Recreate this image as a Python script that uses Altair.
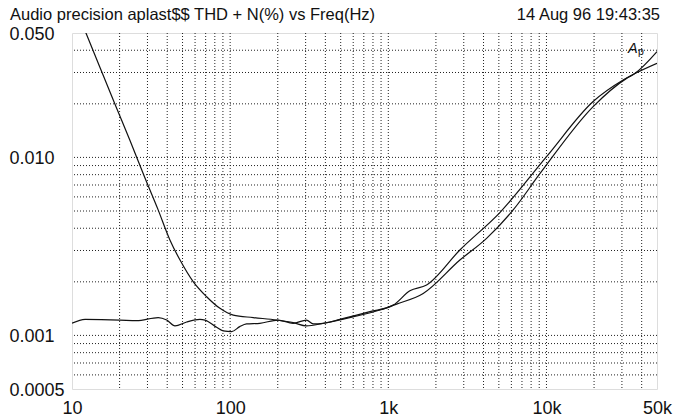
import altair as alt
import pandas as pd

# ---- data (frequency in Hz, THD+N in %) ----
a_freq = [11.57, 12.4, 15.03, 18.7, 23.3, 28.9, 35.0, 41.6, 48.2, 58.5, 71, 86.2, 104.6,
          140, 197, 250, 304, 388, 597, 885, 1128, 1662, 2835, 4182, 6160, 9086,
          19735, 32090, 36000, 50000]
a_thd = [0.0565, 0.0487, 0.032, 0.0199, 0.0124, 0.00768, 0.00509, 0.00344, 0.00265,
         0.0020, 0.00165, 0.00142, 0.0013, 0.00126, 0.00122, 0.00118, 0.00113, 0.00117,
         0.00127, 0.00139, 0.0015, 0.00172, 0.00265, 0.00351, 0.00507, 0.0081,
         0.0193, 0.0278, 0.0295, 0.0393]

b_freq = [10, 12.1, 20.1, 25.6, 35.1, 39.7, 44.8, 53.1, 64.4, 69.3, 82.1, 90.4, 102.2,
          115, 127, 154, 201, 250, 304, 335, 388, 494, 765, 1074, 1369, 1746, 2835,
          5075, 10014, 19735, 30530, 36000, 50000]
b_thd = [0.00117, 0.00123, 0.00122, 0.00121, 0.00126, 0.00122, 0.00113, 0.00119,
         0.00123, 0.00122, 0.00111, 0.00106, 0.00105, 0.00112, 0.00116, 0.00117,
         0.00122, 0.00117, 0.00122, 0.00116, 0.00117, 0.00123, 0.00136, 0.00148,
         0.00178, 0.00192, 0.00302, 0.0049, 0.0101, 0.0206, 0.0272, 0.0295, 0.0338]

x_tick_values = [10, 100, 1000, 10000, 50000]
x_tick_labels = ["10", "100", "1k", "10k", "50k"]
y_tick_values = [0.05, 0.01, 0.001, 0.0005]
y_tick_labels = ["0.050", "0.010", "0.001", "0.0005"]

x_grid = [20, 30, 40, 50, 60, 70, 80, 90, 100, 200, 300, 400, 500, 600, 700, 800, 900,
          1000, 2000, 3000, 4000, 5000, 6000, 7000, 8000, 9000, 10000, 20000, 30000, 40000]
y_grid = [0.0006, 0.0007, 0.0008, 0.0009, 0.001, 0.002, 0.003, 0.004, 0.005, 0.006,
          0.007, 0.008, 0.009, 0.01, 0.02, 0.03, 0.04]

title_left = "Audio precision aplast$$ THD + N(%) vs Freq(Hz)"
title_right = "14 Aug 96 19:43:35"

FONT = "Liberation Sans"

# ---- build tables ----
curves = pd.concat([
    pd.DataFrame({"freq": a_freq, "thd": a_thd, "series": "A"}),
    pd.DataFrame({"freq": b_freq, "thd": b_thd, "series": "B"}),
], ignore_index=True)


def label_expr(values, labels):
    expr = "''"
    for v, l in zip(values, labels):
        expr = f"abs(datum.value - {v}) < {v}*0.01 ? '{l}' : ({expr})"
    return expr


xscale = alt.Scale(type="log", domain=[10, 50000], nice=False)
yscale = alt.Scale(type="log", domain=[0.0005, 0.05], nice=False)

xaxis = alt.Axis(values=x_tick_values, labelExpr=label_expr(x_tick_values, x_tick_labels),
                 grid=False, domain=False, ticks=False, tickSize=0, labelPadding=10,
                 labelFlush=False, labelOverlap=False, labelFontSize=18, labelColor="#111",
                 title=None, labelFont=FONT)
yaxis = alt.Axis(values=y_tick_values, labelExpr=label_expr(y_tick_values, y_tick_labels),
                 grid=False, domain=False, ticks=False, tickSize=0, labelPadding=63,
                 labelAlign="left", labelBaseline="middle", labelOffset=1.5,
                 labelFlush=False, labelOverlap=False, labelFontSize=18, labelColor="#111",
                 title=None, labelFont=FONT)

vgrid = alt.Chart(pd.DataFrame({"freq": x_grid})).mark_rule(
    color="#222", strokeWidth=1, strokeDash=[1, 2]
).encode(x=alt.X("freq:Q", scale=xscale, axis=xaxis))

hgrid = alt.Chart(pd.DataFrame({"thd": y_grid})).mark_rule(
    color="#222", strokeWidth=1, strokeDash=[1, 2]
).encode(y=alt.Y("thd:Q", scale=yscale, axis=yaxis))

lines = alt.Chart(curves).mark_line(
    color="#111", strokeWidth=1.2, clip=True, interpolate="monotone"
).encode(
    x=alt.X("freq:Q", scale=xscale, axis=xaxis),
    y=alt.Y("thd:Q", scale=yscale, axis=yaxis),
    detail="series:N",
)

t_left = alt.Chart(pd.DataFrame({"t": [title_left]})).mark_text(
    align="left", baseline="alphabetic", fontSize=16.5, font=FONT, color="#111"
).encode(text="t:N", x=alt.value(-62), y=alt.value(-13))

t_right = alt.Chart(pd.DataFrame({"t": [title_right]})).mark_text(
    align="right", baseline="alphabetic", fontSize=16.5, font=FONT, color="#111"
).encode(text="t:N", x=alt.value(588), y=alt.value(-13))

mark_a = alt.Chart(pd.DataFrame({"t": ["A"]})).mark_text(
    align="left", baseline="alphabetic", fontSize=14.5, fontStyle="italic", font=FONT, color="#111"
).encode(text="t:N", x=alt.value(556), y=alt.value(19.5))

mark_p = alt.Chart(pd.DataFrame({"t": ["p"]})).mark_text(
    align="left", baseline="alphabetic", fontSize=10.5, font=FONT, color="#111"
).encode(text="t:N", x=alt.value(566), y=alt.value(22))

chart = alt.layer(vgrid, hgrid, lines, t_left, t_right, mark_a, mark_p).properties(
    width=585, height=356,
    padding={"left": 72, "top": 33, "right": 17, "bottom": 28},
    autosize=alt.AutoSizeParams(type="none"),
    background="white",
).configure_view(
    stroke="#111", strokeWidth=1.3, strokeDash=[4, 3]
).configure(font=FONT)

chart.save("out.html", embed_options={"renderer": "svg", "actions": False})
